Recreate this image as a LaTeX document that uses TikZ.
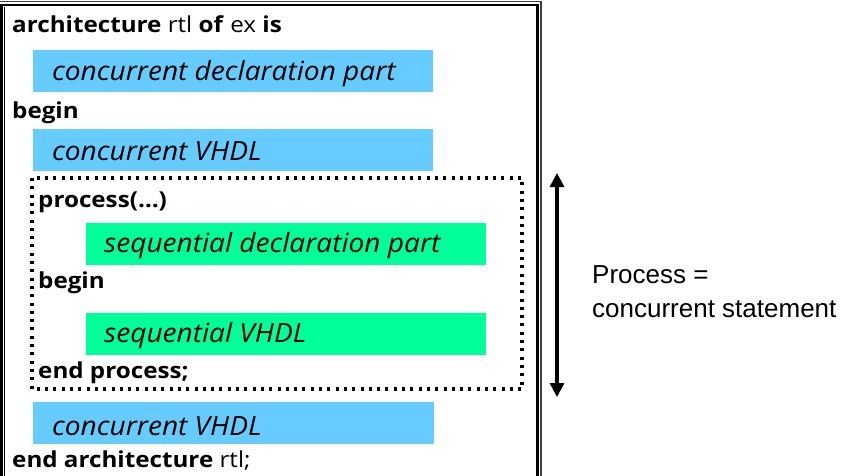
\documentclass[tikz,border=0pt]{standalone}
\usepackage{fontspec}
\usetikzlibrary{arrows.meta}
\newfontfamily\codefont[FakeStretch=1.1]{Open Sans}
\newfontfamily\codeitfont[FakeStretch=1.06]{Open Sans}
\newfontfamily\arialfont{Liberation Sans}
\definecolor{concblue}{RGB}{102,204,255}
\definecolor{seqgreen}{RGB}{0,255,153}
\tikzset{
  x=1pt, y=-1pt,
  bluebox/.style={fill=concblue, draw=none, anchor=north west, inner sep=0pt},
  greenbox/.style={fill=seqgreen, draw=none, anchor=north west, inner sep=0pt},
  kw/.style={anchor=base west, inner sep=0pt, font=\codefont\fontsize{22}{26}\selectfont},
  fill text/.style={anchor=base west, inner sep=0pt, font=\codeitfont\itshape\fontsize{26.5}{30}\selectfont},
  note/.style={anchor=base west, inner sep=0pt, font=\arialfont\fontsize{26}{30}\selectfont},
  procframe/.style={draw=black, line width=3.2pt, dash pattern=on 3pt off 5.3pt},
  dblarrow/.style={line width=3.2pt, {Triangle[width=14pt,length=14pt]}-{Triangle[width=14pt,length=14pt]}}
}
\begin{document}
\begin{tikzpicture}
\useasboundingbox (0,0) rectangle (845,475);
% outer frame (double line)
\draw[line width=2.8pt] (1.4,480) -- (1.4,5) -- (537.5,5) -- (537.5,480);
\draw[line width=1.1pt, black!75] (0,1.5) -- (541,1.5) -- (541,480);
\draw[line width=1.1pt] (4.2,480) -- (4.2,6.5);
% boxes
\node[bluebox, minimum width=400pt, minimum height=42pt] (cdecl) at (33,50) {};
\node[bluebox, minimum width=400pt, minimum height=42pt] (cvhdl1) at (33,129) {};
\node[greenbox, minimum width=400pt, minimum height=42pt] (sdecl) at (86,223) {};
\node[greenbox, minimum width=400pt, minimum height=42pt] (svhdl) at (86,313) {};
\node[bluebox, minimum width=401pt, minimum height=42pt] (cvhdl2) at (33,402) {};
% process frame
\draw[procframe] (32,178) rectangle (522,389);
% texts
\node[kw] (arch) at (12,32) {\textbf{architecture} rtl \textbf{of} ex \textbf{is}};
\node[fill text] (tdecl) at (52,80) {concurrent declaration part};
\node[kw] (begin1) at (12,118) {\textbf{begin}};
\node[fill text] (tc1) at (52,160) {concurrent VHDL};
\node[kw] (proc) at (38,207) {\textbf{process(…)}};
\node[fill text] (tsd) at (104,252) {sequential declaration part};
\node[kw] (begin2) at (38,288) {\textbf{begin}};
\node[fill text] (tsv) at (104,342) {sequential VHDL};
\node[kw] (endproc) at (38,378) {\textbf{end process;}};
\node[fill text] (tc2) at (52,435) {concurrent VHDL};
\node[kw] (endarch) at (12,467) {\textbf{end architecture} rtl;};
% arrow and note
\coordinate (atop) at (557,173);
\coordinate (abot) at (557,397);
\draw[dblarrow] (atop) -- (abot);
\node[note] (n1) at (592,283) {Process =};
\node[note] (n2) at (592,317) {concurrent statement};
\end{tikzpicture}
\end{document}
